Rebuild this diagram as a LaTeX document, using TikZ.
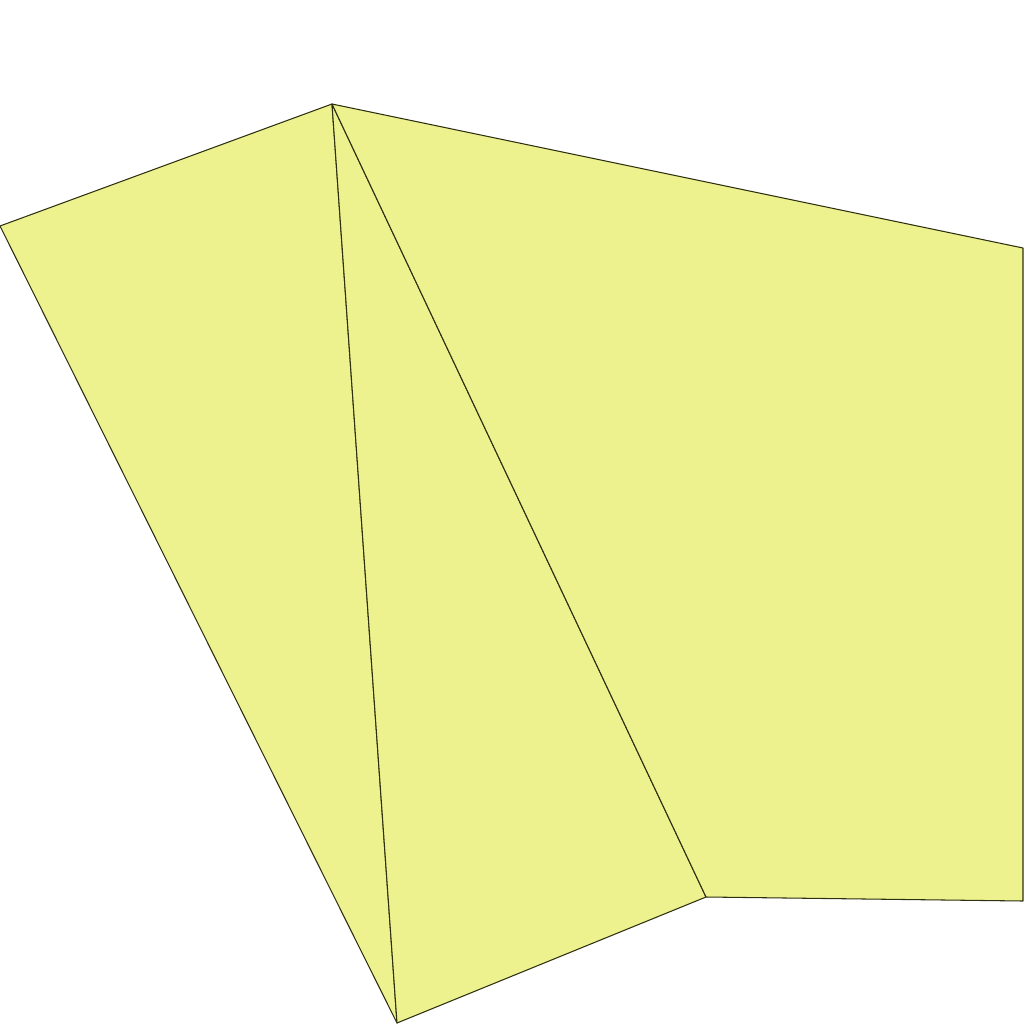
\documentclass[tikz,border=0pt]{standalone}
\usepackage{xcolor}
\usepackage{tikz}

\definecolor{paleyellow}{HTML}{EDF28F}
\definecolor{edgeolive}{HTML}{2E3010}

\begin{document}
\begin{tikzpicture}[
  x=0.01cm, y=-0.01cm,
  face/.style={fill=paleyellow, draw=edgeolive, line width=0.3pt, line join=round},
]
\useasboundingbox (0,0) rectangle (1024,1024);

% ---------- corners ----------
\coordinate (apex) at (332,104);
\coordinate (west) at (0,226);
\coordinate (foot) at (397,1023);
\coordinate (notch) at (706,897);
\coordinate (southeast) at (1023,901);
\coordinate (northeast) at (1023,248);

% ---------- faces ----------
\draw[face] (apex) -- (west) -- (foot) -- cycle;
\draw[face] (apex) -- (foot) -- (notch) -- cycle;
\draw[face] (apex) -- (notch) -- (southeast) -- (northeast) -- cycle;

\end{tikzpicture}
\end{document}
